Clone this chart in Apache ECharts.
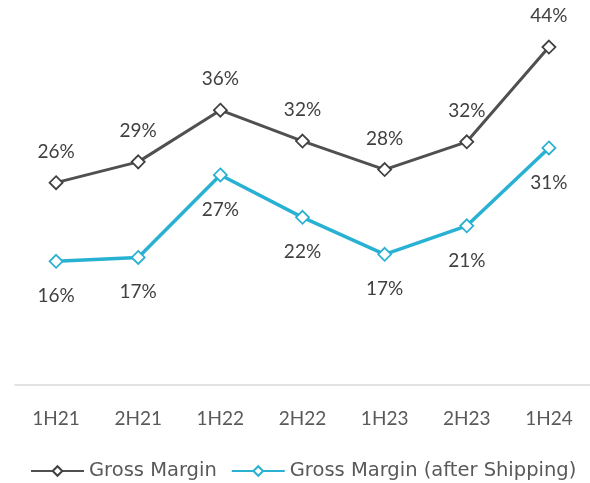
<!DOCTYPE html>
<html><head><meta charset="utf-8">
<script src="https://cdn.jsdelivr.net/npm/echarts@6/dist/echarts.min.js"></script>
<style>html,body{margin:0;padding:0;background:#fff}#c{width:590px;height:483px}</style>
</head><body><div id="c"></div>
<script>
const categories = ['1H21','2H21','1H22','2H22','1H23','2H23','1H24'];
const grossMargin = [26.2, 28.9, 35.6, 31.6, 27.9, 31.5, 43.8];
const grossMarginAfterShipping = [16.0, 16.5, 27.2, 21.7, 16.9, 20.6, 30.7];
const seriesNames = ['Gross Margin', 'Gross Margin (after Shipping)'];

const NUMFONT = 'Lato';
const LEGFONT = 'DejaVu Sans';
const chart = echarts.init(document.getElementById('c'), null, {renderer: 'canvas'});
chart.setOption({
  animation: false,
  backgroundColor: '#fff',
  grid: {left: 15, right: 0, top: 0, bottom: 93, containLabel: false},
  xAxis: {
    type: 'category', data: categories, boundaryGap: true,
    axisLine: {show: true, lineStyle: {color: '#d9d9d9', width: 1.5}},
    axisTick: {show: false},
    axisLabel: {color: '#595959', fontSize: 19, fontFamily: NUMFONT, margin: 19}
  },
  yAxis: {type: 'value', min: -0.7, max: 49.9, show: false, splitLine: {show: false}},
  legend: {
    top: 456, left: 25, itemWidth: 53, itemHeight: 12, itemGap: 14,
    textStyle: {color: '#595959', fontSize: 19.5, fontFamily: LEGFONT},
    data: seriesNames
  },
  series: [
    {
      name: seriesNames[0], type: 'line', data: grossMargin,
      symbol: 'diamond', symbolSize: 13, showAllSymbol: true,
      lineStyle: {color: '#505050', width: 3},
      itemStyle: {color: '#fff', borderColor: '#404040', borderWidth: 1.8},
      label: {show: true, position: 'top', distance: 14, color: '#404040', fontSize: 19, fontFamily: NUMFONT,
              formatter: p => Math.round(p.value) + '%'}
    },
    {
      name: seriesNames[1], type: 'line', data: grossMarginAfterShipping,
      symbol: 'diamond', symbolSize: 13, showAllSymbol: true,
      lineStyle: {color: '#29B1D3', width: 3.5},
      itemStyle: {color: '#fff', borderColor: '#29B1D3', borderWidth: 1.8},
      label: {show: true, position: 'bottom', distance: 18, color: '#404040', fontSize: 19, fontFamily: NUMFONT,
              formatter: p => Math.round(p.value) + '%'}
    }
  ]
});
</script></body></html>
